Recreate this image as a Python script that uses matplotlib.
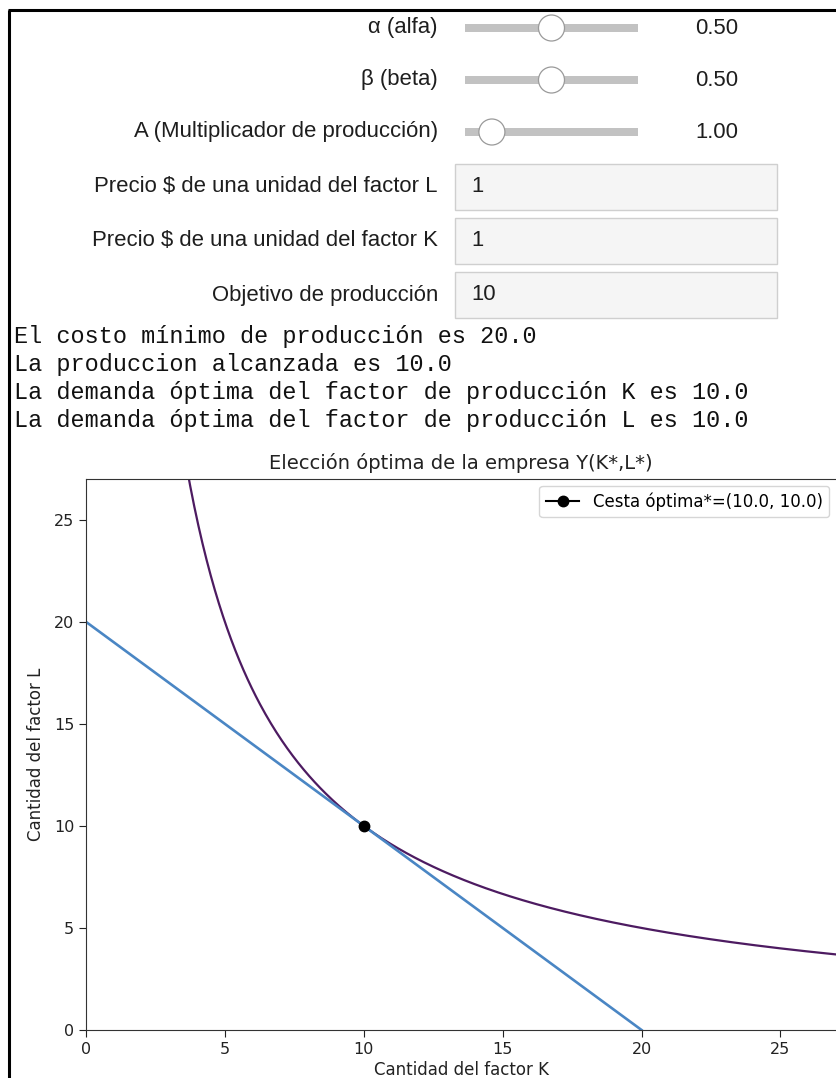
import numpy as np
import matplotlib
matplotlib.use("Agg")
import matplotlib.pyplot as plt
from matplotlib.patches import Circle, Rectangle

# ---- data (widget state) ----
slider_labels = ["α (alfa)", "β (beta)", "A (Multiplicador de producción)"]
slider_values = [0.50, 0.50, 1.00]
slider_mins = [0.0, 0.0, 0.0]
slider_maxs = [1.0, 1.0, 10.0]
box_labels = ["Precio $ de una unidad del factor L",
              "Precio $ de una unidad del factor K",
              "Objetivo de producción"]
box_values = ["1", "1", "10"]
output_lines = ["El costo mínimo de producción es 20.0",
                "La produccion alcanzada es 10.0",
                "La demanda óptima del factor de producción K es 10.0",
                "La demanda óptima del factor de producción L es 10.0"]

alpha = 0.5
beta = 0.5
A = 1.0
pL = 1.0
pK = 1.0
Y = 10.0
K_opt = 10.0
L_opt = 10.0
cost = 20.0
x_ticks = [0, 5, 10, 15, 20, 25]
y_ticks = [0, 5, 10, 15, 20, 25]

W, H = 836, 1078
fig = plt.figure(figsize=(W / 100, H / 100), dpi=100)

# ---- overlay for widgets (pixel coordinates) ----
ov = fig.add_axes([0, 0, 1, 1])
ov.set_xlim(0, W)
ov.set_ylim(H, 0)
ov.axis("off")

label_font = dict(family=["Liberation Sans", "DejaVu Sans"], fontsize=15.9, color="#1e1e1e")
slider_y = [28, 80, 132]
track_x0, track_x1 = 465, 638
for lab, v, lo, hi, yy in zip(slider_labels, slider_values, slider_mins, slider_maxs, slider_y):
    ov.text(438, yy, lab, ha="right", va="center", **label_font)
    ov.add_patch(Rectangle((track_x0, yy - 4), track_x1 - track_x0, 8,
                           facecolor="#c2c2c2", edgecolor="none"))
    frac = (v - lo) / (hi - lo)
    hx = track_x0 + 12 + frac * (track_x1 - track_x0 - 24)
    ov.add_patch(Circle((hx, yy), 13, facecolor="white", edgecolor="#9a9a9a", lw=0.9, zorder=3))
    ov.text(695, yy, f"{v:.2f}", ha="left", va="center", **label_font)

box_y = [187, 241, 295]
for lab, val, yy in zip(box_labels, box_values, box_y):
    ov.text(438, yy, lab, ha="right", va="center", **label_font)
    ov.add_patch(Rectangle((455, yy - 23), 322, 46, facecolor="#f5f5f5",
                           edgecolor="#cfcfcf", lw=1.0))
    ov.text(471, yy, val, ha="left", va="center", **label_font)

line_y = [337, 365, 392, 420]
for txt, yy in zip(output_lines, line_y):
    ov.text(14, yy, txt, ha="left", va="center",
            family=["Liberation Mono", "DejaVu Sans Mono"], fontsize=16.9, color="#111111")

# frame
ov.plot([8, W], [10, 10], color="black", lw=2.2, solid_capstyle="butt", zorder=10)
ov.plot([9, 9], [10, H], color="black", lw=2.2, solid_capstyle="butt", zorder=10)

# ---- chart ----
ax_left, ax_right, ax_top, ax_bot = 86, 836, 479, 1030
ax = fig.add_axes([ax_left / W, 1 - ax_bot / H, (ax_right - ax_left) / W, (ax_bot - ax_top) / H])
K = np.linspace(0.5, 30, 600)
L_iso = (Y / (A * K ** alpha)) ** (1 / beta)
ax.plot(K, L_iso, color="#4d1b61", lw=1.6)
K_b = np.linspace(0, cost / pK, 50)
L_b = (cost - pK * K_b) / pL
ax.plot(K_b, L_b, color="#4a86c4", lw=1.9)
ax.plot([K_opt], [L_opt], marker="o", color="black", markersize=7.5,
        label=f"Cesta óptima*=({K_opt}, {L_opt})")
ax.set_xlim(0, 27)
ax.set_ylim(0, 27)
ax.set_xticks(x_ticks)
ax.set_yticks(y_ticks)
ax.spines["right"].set_visible(False)
for s in ax.spines.values():
    s.set_color("#333333")
ax.tick_params(labelsize=11.5, colors="#222222", length=5)
ax.set_title("Elección óptima de la empresa Y(K*,L*)", fontsize=14, color="#222222", pad=7)
ax.set_xlabel("Cantidad del factor K", fontsize=12, color="#222222", labelpad=3)
ax.set_ylabel("Cantidad del factor L", fontsize=12, color="#222222", labelpad=6)
ax.legend(loc="upper right", fontsize=12, handlelength=2, borderaxespad=0.4)

fig.savefig("out.png", dpi=100)
